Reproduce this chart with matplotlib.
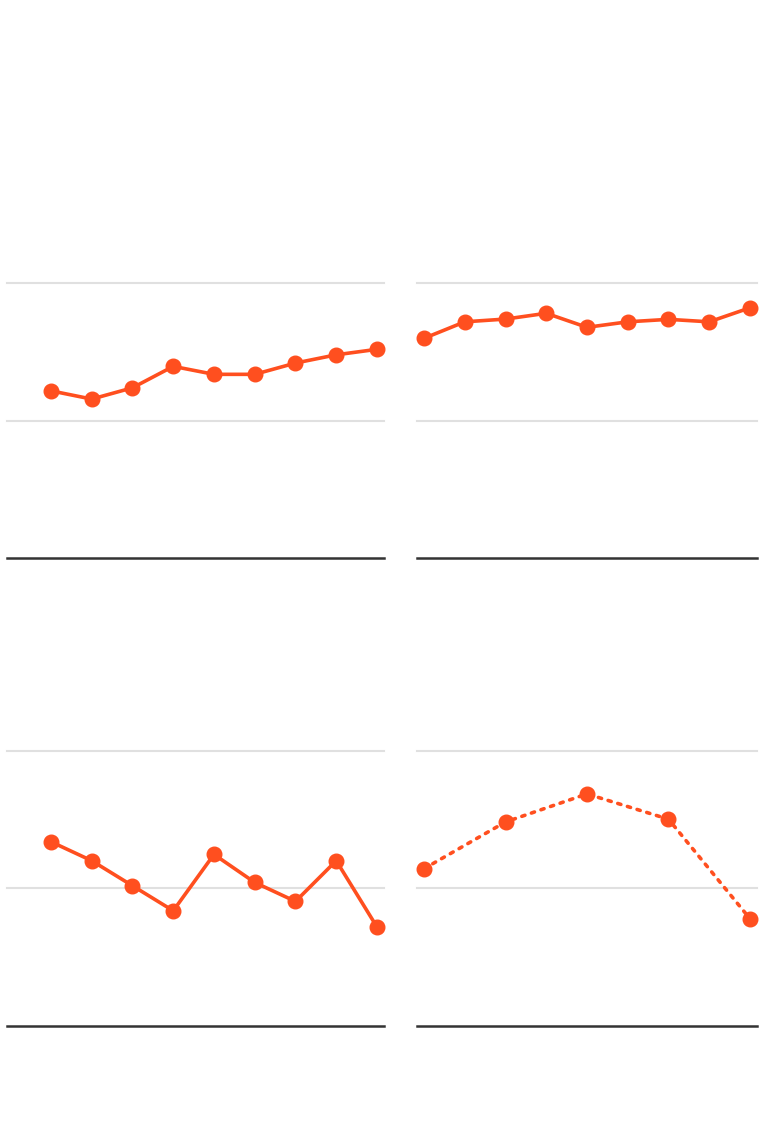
import matplotlib
matplotlib.use("Agg")
import matplotlib.pyplot as plt

# values (scale 0..100, gridlines at 50 and 100)
top_left = [60.9, 57.9, 62.0, 69.8, 66.9, 66.9, 71.0, 74.0, 76.0]
top_right = [80.0, 86.0, 87.0, 89.1, 84.0, 86.0, 86.9, 86.0, 91.1]
bottom_left = [67.0, 60.1, 51.0, 41.9, 62.4, 52.2, 45.3, 60.1, 36.0]
bottom_right = [57.2, 74.2, 84.4, 75.2, 39.0]

orange = '#FF4F1F'

fig = plt.figure(figsize=(7.68, 11.48), dpi=100)

# [left, bottom, width, height] in figure fractions, plus xlim
panels = [
    (top_left, [0.0087, 0.5137, 0.4917, 0.2395], (-1.087, 8.18), '-'),
    (top_right, [0.5434, 0.5137, 0.4427, 0.2395], (-0.164, 8.18), '-'),
    (bottom_left, [0.0087, 0.1063, 0.4917, 0.2395], (-1.087, 8.18), '-'),
    (bottom_right, [0.5434, 0.1063, 0.4427, 0.2395], (-0.082, 4.09), ':'),
]

for vals, rect, xl, ls in panels:
    ax = fig.add_axes(rect)
    x = list(range(len(vals)))
    if ls == ':':
        ax.plot(x, vals, color=orange, lw=2.6, linestyle=(0, (0.9, 1.9)),
                dash_capstyle='round', zorder=3)
    else:
        ax.plot(x, vals, color=orange, lw=2.6, zorder=3)
    ax.plot(x, vals, 'o', color=orange, ms=10.5, zorder=4, clip_on=False)
    ax.set_xlim(*xl)
    ax.set_ylim(0, 100)
    for g in [50, 100]:
        ax.axhline(g, color='#e0e0e0', lw=1.5, zorder=1, clip_on=False)
    ax.axhline(0, color='#333333', lw=1.8, zorder=2, clip_on=False)
    for s in ax.spines.values():
        s.set_visible(False)
    ax.set_xticks([])
    ax.set_yticks([])
    ax.patch.set_alpha(0)

fig.savefig('out.png', dpi=100)
